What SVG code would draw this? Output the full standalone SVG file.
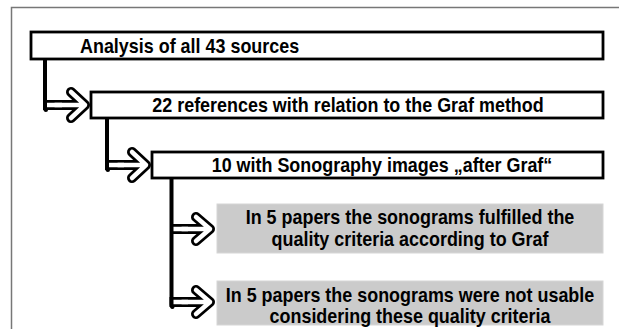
<svg xmlns="http://www.w3.org/2000/svg" width="619" height="329" viewBox="0 0 619 329">
<style>
.box{fill:#fff;stroke:#000;stroke-width:2.8}
.gbox{fill:#cbcbcb;stroke:#d6d6d6;stroke-width:1}
.t{font-family:"Liberation Sans",Arial,sans-serif;font-weight:bold;font-size:19.5px;fill:#000}
.m{text-anchor:middle}
.so{fill:none;stroke:#000;stroke-width:10;stroke-linecap:butt}
.si{fill:none;stroke:#fff;stroke-width:4.5;stroke-linecap:butt}
.ao{fill:none;stroke:#000;stroke-width:10;stroke-linecap:round;stroke-linejoin:round}
.ai{fill:none;stroke:#fff;stroke-width:4.5;stroke-linecap:round;stroke-linejoin:round}
.v{fill:none;stroke:#000;stroke-width:4;stroke-linecap:round;stroke-linejoin:round}
</style>
<rect width="619" height="329" fill="#fff"/>
<path d="M11.5,329 V7.5 H619" fill="none" stroke="#777" stroke-width="1.5"/>
<g id="connectors">
<path class="ao" d="M60,105 H85 M71,92 L85,105 L71,118"/>
<path class="so" d="M43,105 H62"/>
<path class="ai" d="M55,105 H85 M71,92 L85,105 L71,118"/>
<path class="si" d="M44,105 H62"/>
<path class="v" d="M45,59 V107 Q45,110 46,110"/>

<path class="ao" d="M122,165 H146 M132,152 L146,165 L132,178"/>
<path class="so" d="M105,165 H124"/>
<path class="ai" d="M118,165 H146 M132,152 L146,165 L132,178"/>
<path class="si" d="M106,165 H124"/>
<path class="v" d="M107,118 V167 Q107,170 108,170"/>

<path class="ao" d="M186,229 H210 M196,217 L210,229 L196,241"/>
<path class="so" d="M171,229 H188"/>
<path class="ai" d="M182,229 H210 M196,217 L210,229 L196,241"/>
<path class="si" d="M171,229 H188"/>

<path class="ao" d="M186,302 H210 M196,290 L210,302 L196,314"/>
<path class="so" d="M169.5,302 H188"/>
<path class="ai" d="M182,302 H210 M196,290 L210,302 L196,314"/>
<path class="si" d="M171,302 H188"/>
<path class="v" d="M171.5,178 V304 Q171.5,307 172.5,307"/>
</g>
<g id="n1">
<rect class="box" x="31" y="32" width="572" height="27"/>
<text class="t" transform="translate(80,52.5) scale(0.92,1)">Analysis of all 43 sources</text>
</g>
<g id="n2">
<rect class="box" x="91" y="92" width="512" height="26"/>
<text class="t m" transform="translate(348,111.5) scale(0.92,1)">22 references with relation to the Graf method</text>
</g>
<g id="n3">
<rect class="box" x="152" y="152" width="451" height="26"/>
<text class="t m" transform="translate(382,171.5) scale(0.92,1)">10 with Sonography images „after Graf“</text>
</g>
<g id="n4">
<rect class="gbox" x="217" y="204" width="386" height="49"/>
<text class="t m" transform="translate(410,224) scale(0.92,1)">In 5 papers the sonograms fulfilled the</text>
<text class="t m" transform="translate(410,246) scale(0.92,1)">quality criteria according to Graf</text>
</g>
<g id="n5">
<rect class="gbox" x="217" y="281" width="386" height="44"/>
<text class="t m" transform="translate(410,302) scale(0.92,1)">In 5 papers the sonograms were not usable</text>
<text class="t m" transform="translate(410,323) scale(0.92,1)">considering these quality criteria</text>
</g>
</svg>
